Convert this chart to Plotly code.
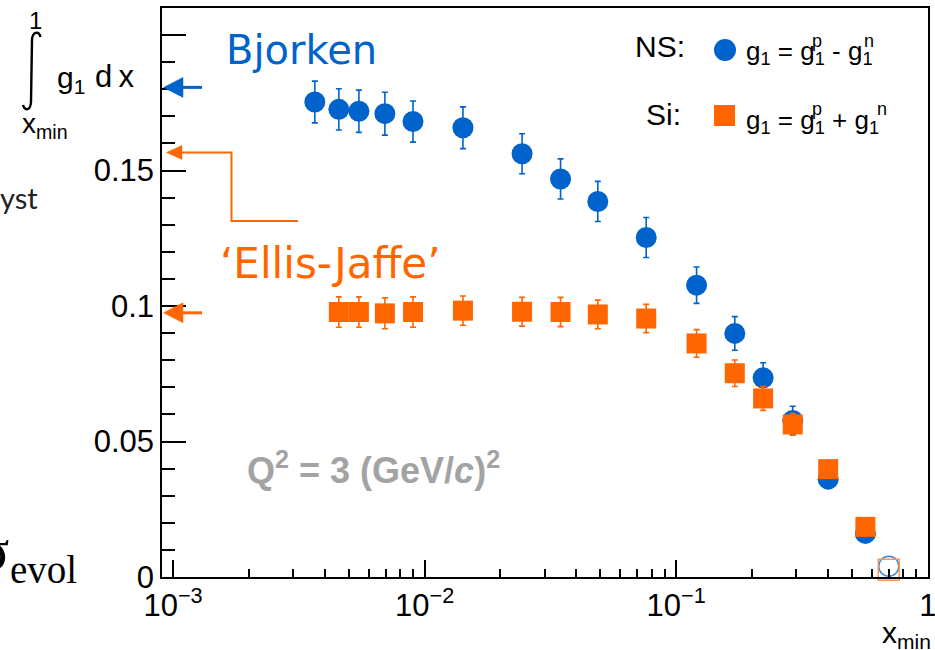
import plotly.graph_objects as go

# ---------------- data ----------------
# non-singlet integral (g1p - g1n), truncated at x_min
x_ns = [0.00366, 0.00456, 0.00548, 0.00695, 0.00899, 0.0142, 0.0244, 0.0347,
        0.0488, 0.0760, 0.1205, 0.171, 0.2216, 0.2906, 0.402, 0.565]
g1_ns = [0.1753, 0.1726, 0.1719, 0.1710, 0.1681, 0.1658, 0.1562, 0.1469,
         0.1386, 0.1253, 0.1077, 0.0899, 0.0735, 0.0578, 0.0361, 0.0161]
err_ns = [0.0077, 0.0076, 0.0078, 0.0079, 0.0076, 0.0077, 0.0074, 0.0074,
          0.0074, 0.0074, 0.0067, 0.0062, 0.0056, 0.0052, 0.0030, 0.0020]

# singlet integral (g1p + g1n)
x_si = [0.00456, 0.00548, 0.00695, 0.00899, 0.0142, 0.0244, 0.0347, 0.0488,
        0.0760, 0.1205, 0.171, 0.2216, 0.2906, 0.402, 0.565]
g1_si = [0.0978, 0.0978, 0.0973, 0.0978, 0.0983, 0.0979, 0.0978, 0.0969,
         0.0954, 0.0862, 0.0752, 0.0659, 0.0563, 0.0398, 0.0185]
err_si = [0.0056, 0.0056, 0.0057, 0.0056, 0.0054, 0.0053, 0.0054, 0.0053,
          0.0052, 0.0051, 0.0049, 0.0044, 0.0040, 0.0030, 0.0020]

# last bin, drawn with open markers
x_last = [0.70]
g1_ns_last = [0.0040]
g1_si_last = [0.0027]

# sum-rule expectations marked on the y axis
bjorken_sum = 0.1807
ellis_jaffe_upper = 0.1567
ellis_jaffe_lower = 0.0975

x_tickvals = [1e-3, 1e-2, 1e-1, 1]
x_ticktext = ["10<sup>−3</sup>", "10<sup>−2</sup>", "10<sup>−1</sup>", "1"]
y_tickvals = [0, 0.05, 0.1, 0.15, 0.2]
y_ticktext = ["0", "0.05", "0.1", "0.15", ""]

# ---------------- styling ----------------
BLUE = "#0063cc"
ORANGE = "#ff6600"
GREY = "#a3a3a3"
SANS = "Liberation Sans, Arial, sans-serif"
WIDE = "DejaVu Sans, Verdana, sans-serif"
SERIF = "Liberation Serif, Times New Roman, serif"

FIG_W, FIG_H = 935, 650
L, R, T, B = 162, 7, 8, 73
PW, PH = FIG_W - L - R, FIG_H - T - B
Y_MAX = 0.21


def fx(px):
    """page pixel column -> paper x"""
    return (px - L) / PW


def fy(py):
    """page pixel row -> paper y"""
    return (FIG_H - B - py) / PH


def vy(v):
    """y value -> page pixel row"""
    return FIG_H - B - v / Y_MAX * PH


fig = go.Figure()

fig.add_trace(go.Scatter(
    x=x_ns, y=g1_ns, mode="markers",
    marker=dict(symbol="circle", size=21, color=BLUE, line=dict(width=0)),
    error_y=dict(type="data", array=err_ns, color=BLUE, thickness=1.6, width=3),
    showlegend=False, cliponaxis=False))
fig.add_trace(go.Scatter(
    x=x_si, y=g1_si, mode="markers",
    marker=dict(symbol="square", size=20, color=ORANGE, line=dict(width=0)),
    error_y=dict(type="data", array=err_si, color=ORANGE, thickness=1.6, width=3),
    showlegend=False, cliponaxis=False))
fig.add_trace(go.Scatter(
    x=x_last, y=g1_ns_last, mode="markers",
    marker=dict(symbol="circle-open", size=20, color="#3f86d8", line=dict(width=1.5)),
    showlegend=False, cliponaxis=False))
fig.add_trace(go.Scatter(
    x=x_last, y=g1_si_last, mode="markers",
    marker=dict(symbol="square-open", size=21, color="#ff9450", line=dict(width=1.5)),
    showlegend=False, cliponaxis=False))

minor_x = [m * 10.0 ** e for e in (-3, -2, -1) for m in range(2, 10)]
minor_y = [round(0.01 * i, 2) for i in range(1, 22) if i % 5]

fig.update_xaxes(
    type="log", range=[-3.044, 0.001], autorange=False,
    tickmode="array", tickvals=x_tickvals, ticktext=x_ticktext,
    ticks="inside", ticklen=17, tickwidth=1.5, tickcolor="black",
    minor=dict(tickmode="array", tickvals=minor_x, ticks="inside",
               ticklen=8, tickwidth=1.5, tickcolor="black"),
    showline=True, linecolor="black", linewidth=1.5, mirror=True,
    showgrid=False, zeroline=False,
    tickfont=dict(family=SANS, size=31, color="black"),
    ticklabeloverflow="allow",
    automargin=False)
fig.update_yaxes(
    range=[0, Y_MAX], autorange=False,
    tickmode="array", tickvals=y_tickvals, ticktext=y_ticktext,
    ticks="inside", ticklen=24, tickwidth=1.5, tickcolor="black",
    minor=dict(tickmode="array", tickvals=minor_y, ticks="inside",
               ticklen=13, tickwidth=1.5, tickcolor="black"),
    showline=True, linecolor="black", linewidth=1.5, mirror=True,
    showgrid=False, zeroline=False,
    tickfont=dict(family=SANS, size=31, color="black"),
    automargin=False)

shapes = []


def arrow(value, color, tip_px, base_px, half_h, tail_px, lw):
    yp = vy(value)
    shapes.append(dict(
        type="path", xref="paper", yref="paper",
        path=f"M {fx(tip_px)},{fy(yp)} L {fx(base_px)},{fy(yp - half_h)} "
             f"L {fx(base_px)},{fy(yp + half_h)} Z",
        fillcolor=color, line=dict(color=color, width=0.5), layer="above"))
    shapes.append(dict(
        type="line", xref="paper", yref="paper",
        x0=fx(base_px - 2), y0=fy(yp), x1=fx(tail_px), y1=fy(yp),
        line=dict(color=color, width=lw), layer="above"))


arrow(bjorken_sum, BLUE, 163.5, 183, 10, 202, 3)
arrow(ellis_jaffe_lower, ORANGE, 163.5, 183, 10, 202, 3)

# bracket leading from the 'Ellis-Jaffe' label to the upper expectation
y_ej = vy(ellis_jaffe_upper)
shapes.append(dict(
    type="path", xref="paper", yref="paper",
    path=f"M {fx(166.5)},{fy(y_ej)} L {fx(182)},{fy(y_ej - 7)} "
         f"L {fx(182)},{fy(y_ej + 7)} Z",
    fillcolor=ORANGE, line=dict(color=ORANGE, width=0.5), layer="above"))
shapes.append(dict(
    type="path", xref="paper", yref="paper",
    path=f"M {fx(180)},{fy(y_ej)} L {fx(231.5)},{fy(y_ej)} "
         f"L {fx(231.5)},{fy(221)} L {fx(298)},{fy(221)}",
    line=dict(color=ORANGE, width=2), layer="above"))

# integral sign of the y-axis title
shapes.append(dict(
    type="path", xref="paper", yref="paper",
    path=(f"M {fx(40.5)},{fy(37)} C {fx(39)},{fy(31)} {fx(32.5)},{fy(31)} {fx(32)},{fy(40)} "
          f"L {fx(31)},{fy(102)} C {fx(30.5)},{fy(111)} {fx(24.5)},{fy(111)} {fx(23)},{fy(105)}"),
    line=dict(color="black", width=2.4), layer="above"))

# legend markers
shapes.append(dict(type="circle", xref="paper", yref="paper",
                   x0=fx(714), x1=fx(736), y0=fy(39), y1=fy(61),
                   fillcolor=BLUE, line=dict(width=0)))
shapes.append(dict(type="rect", xref="paper", yref="paper",
                   x0=fx(714), x1=fx(735), y0=fy(105), y1=fy(126),
                   fillcolor=ORANGE, line=dict(width=0)))

annotations = []


def text(s, x_px, y_px, size, color="black", family=SANS, xanchor="left",
         yanchor="middle"):
    annotations.append(dict(
        text=s, x=fx(x_px), y=fy(y_px), xref="paper", yref="paper",
        xanchor=xanchor, yanchor=yanchor, showarrow=False,
        font=dict(family=family, size=size, color=color)))


text("Bjorken", 224, 50, 40, BLUE, WIDE)
text("‘Ellis-Jaffe’", 218, 263, 42, ORANGE, WIDE)
text("<b>Q<sup>2</sup> = 3 (GeV/<i>c</i>)<sup>2</sup></b>", 245, 468, 36, GREY, SANS)

# legend text
text("NS:", 687, 47, 30, "black", SANS, xanchor="right")
text("Si:", 683, 115, 30, "black", SANS, xanchor="right")
text("g<sub>1</sub> = g<sub>1</sub> - g<sub>1</sub>", 744, 53, 26)
text("g<sub>1</sub> = g<sub>1</sub> + g<sub>1</sub>", 744, 121, 26)
text("p", 817, 41, 18, xanchor="center")
text("n", 869, 41, 18, xanchor="center")
text("p", 817, 109, 18, xanchor="center")
text("n", 882, 109, 18, xanchor="center")

# y-axis title
text("1", 35, 21, 24, xanchor="center")
text("g<sub>1</sub>", 55, 80, 30)
text("d\u2009x", 93, 76, 31)
text("x<sub>min</sub>", 20, 126, 28)

# x-axis title
text("x<sub>min</sub>", 933, 634, 30, xanchor="right")

# fragments of neighbouring slide text at the left edge
text("yst", -2, 197, 29, "#222222", "Lato, Carlito, sans-serif")
text("σ", 11, 550, 56, "black", SERIF, xanchor="right")
text("evol", 8, 569, 39, "black", SERIF)

fig.update_layout(
    width=FIG_W, height=FIG_H,
    margin=dict(l=L, r=R, t=T, b=B, pad=0),
    paper_bgcolor="white", plot_bgcolor="white",
    shapes=shapes, annotations=annotations,
    showlegend=False)

fig.write_html("out.html")
